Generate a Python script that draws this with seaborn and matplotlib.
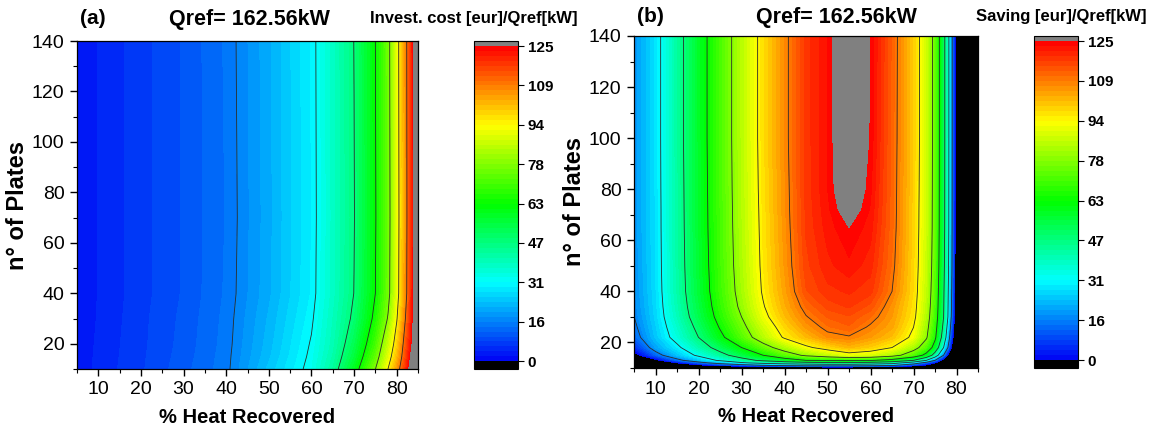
import numpy as np
import matplotlib
matplotlib.use("Agg")
import matplotlib.pyplot as plt
import seaborn as sns
from matplotlib.colors import LinearSegmentedColormap
from matplotlib.ticker import MultipleLocator

# ---------------- data ----------------
# (a) investment cost [eur]/Qref[kW]
heat_a = [5, 10, 20, 30, 40, 50, 60, 65, 70, 75, 78, 80, 82, 84, 85]
plates_a = [10, 15, 20, 30, 40, 70, 140]
invest_cost = [
    [2.5, 4.5, 7.5, 11.0, 14.8, 24.0, 33.0, 43.0, 58.0, 78.0, 94.0, 105.0, 118.0, 135.0, 150.0],
    [2.4, 4.4, 7.4, 10.7, 14.7, 23.0, 32.3, 41.2, 54.5, 73.5, 89.5, 101.0, 115.0, 131.0, 147.0],
    [2.3, 4.3, 7.3, 10.5, 14.5, 22.5, 31.7, 40.0, 52.0, 70.0, 86.0, 98.0, 113.0, 128.0, 145.0],
    [2.1, 4.1, 7.2, 10.3, 14.3, 21.8, 30.5, 39.0, 48.5, 65.0, 79.0, 93.0, 109.0, 126.0, 142.0],
    [2.0, 4.0, 7.0, 10.0, 14.0, 21.0, 29.5, 38.0, 47.0, 62.5, 75.5, 90.0, 106.0, 125.0, 140.0],
    [2.0, 4.0, 7.0, 10.0, 13.8, 20.8, 29.3, 37.8, 46.6, 62.0, 75.0, 89.5, 105.5, 124.5, 140.0],
    [2.0, 4.0, 7.0, 10.0, 14.0, 21.0, 29.5, 38.0, 47.0, 62.5, 75.5, 90.0, 106.0, 125.0, 140.0],
]

# (b) saving [eur]/Qref[kW]
heat_b = [5, 10, 15, 20, 25, 30, 35, 40, 45, 50, 55, 60, 65, 70, 73, 75, 77, 78, 79, 80, 85]
plates_b = [10, 11, 12, 13, 15, 18, 22, 26, 30, 34, 40, 50, 65, 72, 80, 100, 140]
saving = [
    [-90, -65, -45, -33, -25, -20, -17, -15, -14, -13, -13, -14, -16, -22, -28, -33, -40, -48, -60, -75, -120],
    [-55, -32, -15, -4, 3.3, 8.9, 14.5, 18, 20, 21, 21, 19.5, 16.5, 5.2, -3, -10, -20, -28, -40, -60, -100],
    [-30, -12, 0, 11.2, 20.8, 29.5, 35, 39, 42, 44, 44, 42, 37.5, 23.4, 10.4, 0, -12, -20, -35, -55, -90],
    [-15, -3, 12.5, 23.4, 33, 41.7, 49.5, 56, 62.5, 63.5, 64, 63.5, 58, 46.9, 31.25, 15.6, -5, -15, -28, -45, -80],
    [-4, 11.7, 23.4, 33.2, 43, 52.8, 62.5, 72.3, 80.1, 85, 90, 88, 83, 71.2, 58.6, 40.4, 15.6, 0, -18, -35, -70],
    [5, 19.8, 29.1, 40.6, 51.4, 62.5, 73.6, 83.3, 92, 97.5, 102, 99, 93.75, 82.6, 71.9, 57.3, 31.25, 15.6, -4, -25, -60],
    [12, 23.9, 34.9, 46.9, 59.9, 72.1, 84.1, 94.9, 101.5, 107.5, 108.8, 105.5, 101, 91.7, 79.3, 64.8, 40.6, 23.4, 3.9, -15, -60],
    [14, 25, 37, 49.7, 63.3, 75.2, 87.5, 98, 106, 111, 113, 108.5, 104, 93.8, 81.4, 67.3, 44, 27.5, 7.7, -13, -60],
    [15.5, 26, 39.1, 52.6, 66.1, 78.1, 91.1, 101.1, 109, 113.5, 115, 111.5, 105.5, 95.8, 83.3, 69.4, 46.9, 31.25, 11.2, -11, -60],
    [16.3, 26.5, 40.2, 54, 67.6, 80.3, 93, 103, 111.5, 116, 117.5, 114.5, 106.5, 96.6, 84.3, 70.5, 47.6, 32, 12.3, -10, -60],
    [17, 27, 41.2, 55.4, 69, 82, 94.7, 104.5, 115, 118.5, 119.5, 118, 109.4, 97.4, 85.4, 71.7, 48.3, 32.8, 13.4, -9, -60],
    [17.5, 27.3, 41.7, 56, 69.7, 83, 95.5, 105.7, 116.5, 120.5, 122.5, 120, 111, 98, 86.4, 72.9, 49.7, 34.4, 14.5, -8, -60],
    [18, 27.5, 42, 56.5, 70.2, 83.6, 96, 106.5, 117.5, 122, 125.0, 122, 112, 98.5, 87, 73.8, 50.7, 35.5, 15.2, -7.5, -60],
    [18, 27.5, 42.1, 56.6, 70.3, 83.8, 96.2, 106.8, 117.7, 122.5, 127.5, 122.8, 112.2, 98.6, 87.1, 73.9, 50.8, 35.6, 15.3, -7.3, -60],
    [18, 27.6, 42.2, 56.7, 70.5, 84, 96.5, 107, 117.8, 123, 129.5, 123.5, 112.3, 98.8, 87.2, 74, 50.9, 35.7, 15.4, -7.2, -60],
    [18, 27.7, 42.5, 57, 70.8, 84.3, 96.9, 107.5, 118, 123, 131, 124.5, 112.5, 99.2, 87.4, 74.2, 51.1, 35.9, 15.6, -7, -60],
    [18, 27.7, 42.5, 57, 70.8, 84.3, 96.9, 107.5, 118, 123, 132, 124.8, 112.8, 99.2, 87.4, 74.2, 51.1, 35.9, 15.6, -7, -60],
]

cbar_ticks = [0, 15.625, 31.25, 46.875, 62.5, 78.125, 93.75, 109.375, 125]
cbar_labels = ["0", "16", "31", "47", "63", "78", "94", "109", "125"]
contour_lines = [15.625, 31.25, 46.875, 62.5, 78.125, 93.75, 109.375]

x_ticks = [10, 20, 30, 40, 50, 60, 70, 80]
y_ticks = [20, 40, 60, 80, 100, 120, 140]

title_q = "Qref= 162.56kW"
cbar_title_a = "Invest. cost [eur]/Qref[kW]"
cbar_title_b = "Saving [eur]/Qref[kW]"
xlabel = "% Heat Recovered"
ylabel = "n° of Plates"

# ---------------- style ----------------
sns.set_theme(style="ticks", rc={"axes.edgecolor": "black", "xtick.color": "black",
                                 "ytick.color": "black", "text.color": "black",
                                 "axes.labelcolor": "black"})
plt.rcParams['font.family'] = ['Liberation Sans', 'DejaVu Sans']

W, H = 1150, 429
fig = plt.figure(figsize=(W / 100, H / 100), dpi=100)


def box(x0, y0, x1, y1):
    return [x0 / W, 1 - y1 / H, (x1 - x0) / W, (y1 - y0) / H]


ax_a = fig.add_axes(box(77, 41, 418, 369))
cax_a = fig.add_axes(box(474, 41, 518, 369))
ax_b = fig.add_axes(box(634, 36, 978, 368))
cax_b = fig.add_axes(box(1034, 36, 1078, 368))

cmap = LinearSegmentedColormap.from_list(
    "origin_rainbow",
    [(0.0, "#0000f5"), (0.25, "#00ffff"), (0.5, "#00ff00"), (0.75, "#ffff00"), (1.0, "#ff0000")])
cmap.set_under("black")
cmap.set_over("#808080")
levels = np.linspace(0, 125, 65)


def panel(ax, cax, xs, ys, z):
    Z = np.array(z, dtype=float)
    cs = ax.contourf(xs, ys, Z, levels=levels, cmap=cmap, extend="both", antialiased=False)
    ax.contour(xs, ys, Z, levels=contour_lines, colors="#2b2b2b", linewidths=0.6)
    ax.set_xlim(5, 85)
    ax.set_ylim(10, 140)
    ax.set_xticks(x_ticks)
    ax.set_yticks(y_ticks)
    ax.xaxis.set_minor_locator(MultipleLocator(5))
    ax.yaxis.set_minor_locator(MultipleLocator(10))
    ax.tick_params(which="major", direction="out", length=5, width=1, labelsize=14, pad=4)
    ax.tick_params(which="minor", direction="out", length=3, width=0.8)
    ax.set_xlabel(xlabel, fontsize=14.5, fontweight="bold", labelpad=7)
    ax.set_ylabel(ylabel, fontsize=17, fontweight="bold", labelpad=2)
    for s in ax.spines.values():
        s.set_linewidth(0.9)
    cb = fig.colorbar(cs, cax=cax, extend="both", extendrect=True,
                      extendfrac=[0.025, 0.016], ticks=cbar_ticks, drawedges=False)
    cb.ax.set_yticklabels(cbar_labels, fontweight="bold", fontsize=11)
    cb.ax.tick_params(direction="out", length=4, width=0.8, pad=3)
    cb.ax.minorticks_off()
    cb.outline.set_linewidth(0.8)
    return cs


panel(ax_a, cax_a, heat_a, plates_a, invest_cost)
panel(ax_b, cax_b, heat_b, plates_b, saving)

fig.text(80 / W, 1 - 19 / H, "(a)", fontsize=15, fontweight="bold", ha="left", va="center")
fig.text(249 / W, 1 - 19 / H, title_q, fontsize=15.5, fontweight="bold", ha="center", va="center")
fig.text(577 / W, 1 - 18 / H, cbar_title_a, fontsize=12, fontweight="bold", ha="right", va="center")

fig.text(637 / W, 1 - 17 / H, "(b)", fontsize=15, fontweight="bold", ha="left", va="center")
fig.text(836 / W, 1 - 17 / H, title_q, fontsize=15.5, fontweight="bold", ha="center", va="center")
fig.text(1147 / W, 1 - 17 / H, cbar_title_b, fontsize=12, fontweight="bold", ha="right", va="center")

fig.savefig("out.png", dpi=100)
